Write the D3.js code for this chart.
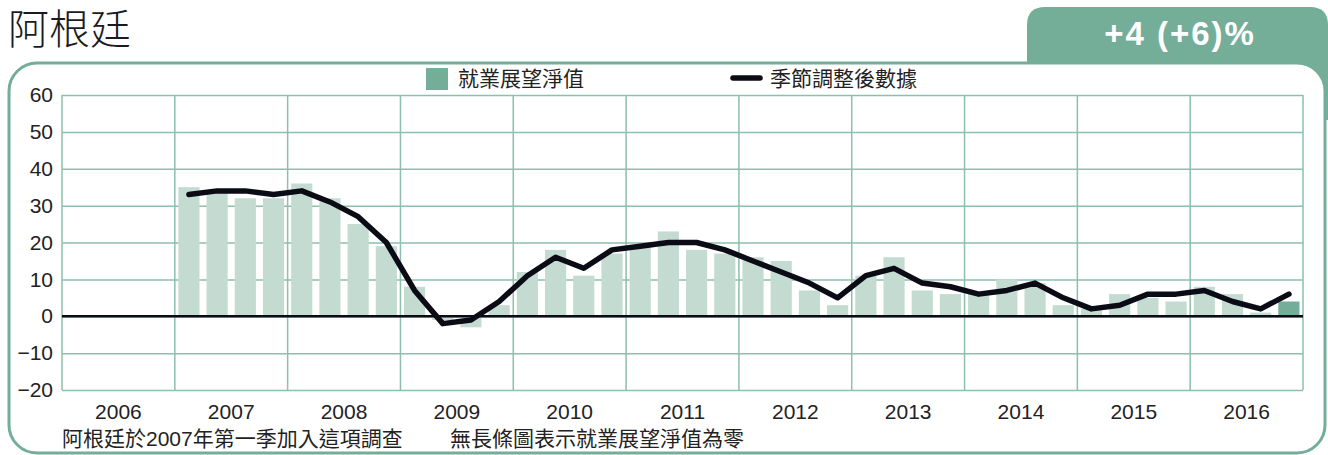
<!DOCTYPE html>
<html>
<head>
<meta charset="utf-8">
<script src="https://cdn.jsdelivr.net/npm/d3@7"></script>
<style>
  html, body { margin: 0; padding: 0; background: #fff; }
  svg { display: block; font-family: "Liberation Sans", "Noto Sans CJK TC", sans-serif; }
</style>
</head>
<body>
<svg id="chart"></svg>
<script>
// years on the axis, quarters within each year
const years = [2006, 2007, 2008, 2009, 2010, 2011, 2012, 2013, 2014, 2015, 2016];
const quarters = ["Q1", "Q2", "Q3", "Q4"];
const firstSurveyYear = 2007;

// net employment outlook, 2007Q1 .. 2016Q4
const netOutlook = [
  35, 34, 32, 32,
  36, 32, 25, 19,
  8, -1, -3, 3,
  12, 18, 11, 17,
  19, 23, 18, 17,
  16, 15, 7, 3,
  11, 16, 7, 6,
  6, 10, 9, 3,
  2, 6, 5, 4,
  8, 6, 1, 4
];
// seasonally adjusted, 2007Q1 .. 2016Q4
const seasonallyAdjusted = [
  33, 34, 34, 33,
  34, 31, 27, 20,
  7, -2, -1, 4,
  11, 16, 13, 18,
  19, 20, 20, 18,
  15, 12, 9, 5,
  11, 13, 9, 8,
  6, 7, 9, 5,
  2, 3, 6, 6,
  7, 4, 2, 6
];
const yTicks = [-20, -10, 0, 10, 20, 30, 40, 50, 60];

const countryTitle = "阿根廷";
const badgeText = "+4 (+6)%";
const legendBars = "就業展望淨值";
const legendLine = "季節調整後數據";
const footNotes = ["阿根廷於2007年第一季加入這項調查", "無長條圖表示就業展望淨值為零"];

const width = 1328, height = 455;
const green = "#74ae99", lightGreen = "#c4dbd2", gridGreen = "#8cbfac", ink = "#0b0b16";
const plot = { left: 62, right: 1303, top: 95, bottom: 390 };

const svg = d3.select("#chart").attr("width", width).attr("height", height);

// quarter keys for every axis year; data start at the first survey year
const allKeys = years.flatMap((yr) => quarters.map((q) => `${yr}${q}`));
const dataKeys = allKeys.filter((k) => +k.slice(0, 4) >= firstSurveyYear);
const rows = dataKeys.map((k, i) => ({ key: k, net: netOutlook[i], sa: seasonallyAdjusted[i] }));

const x = d3.scaleBand().domain(allKeys).range([plot.left, plot.right]).paddingInner(0.25).paddingOuter(0.125);
const xYear = d3.scaleBand().domain(years).range([plot.left, plot.right]);
const y = d3.scaleLinear().domain([-20, 60]).range([plot.bottom, plot.top]);

// badge behind the frame
svg.append("path")
  .attr("d", "M1027,80 V25 Q1027,7 1045,7 H1310 Q1328,7 1328,25 V120 H1027 Z")
  .attr("fill", green);
svg.append("text")
  .attr("x", 1180).attr("y", 45)
  .attr("text-anchor", "middle")
  .attr("fill", "#fff")
  .attr("font-size", 33).attr("font-weight", "bold")
  .attr("letter-spacing", 2)
  .text(badgeText);

// frame
svg.append("rect")
  .attr("x", 9).attr("y", 63).attr("width", 1316).attr("height", 390)
  .attr("rx", 28).attr("ry", 28)
  .attr("fill", "#fff").attr("stroke", green).attr("stroke-width", 3);

svg.append("text")
  .attr("x", 8).attr("y", 44)
  .attr("font-size", 41).attr("font-weight", 300)
  .attr("fill", "#1a1a22")
  .text(countryTitle);

// horizontal grid + y labels
const yAxis = svg.append("g")
  .attr("transform", `translate(${plot.left},0)`)
  .call(d3.axisLeft(y).tickValues(yTicks).tickSize(-(plot.right - plot.left)).tickPadding(9));
yAxis.select(".domain").remove();
yAxis.selectAll(".tick line").attr("stroke", gridGreen).attr("stroke-width", 1.5);
yAxis.selectAll(".tick text").attr("font-size", 21).attr("fill", "#222").attr("font-family", null);

// vertical year grid
svg.append("g")
  .selectAll("line")
  .data(years.map((yr) => xYear(yr)).concat(plot.right))
  .join("line")
  .attr("x1", (d) => d).attr("x2", (d) => d)
  .attr("y1", plot.top).attr("y2", plot.bottom)
  .attr("stroke", gridGreen).attr("stroke-width", 1.5);

// year labels
const xAxis = svg.append("g")
  .attr("transform", `translate(0,${plot.bottom})`)
  .call(d3.axisBottom(xYear).tickSize(0).tickPadding(14));
xAxis.select(".domain").remove();
xAxis.selectAll(".tick text").attr("font-size", 21).attr("fill", "#222").attr("font-family", null);

// bars
svg.append("g")
  .selectAll("rect")
  .data(rows)
  .join("rect")
  .attr("x", (d) => x(d.key))
  .attr("width", x.bandwidth())
  .attr("y", (d) => y(Math.max(0, d.net)))
  .attr("height", (d) => Math.abs(y(d.net) - y(0)))
  .attr("fill", (d, i) => (i === rows.length - 1 ? green : lightGreen));

// zero line
svg.append("line")
  .attr("x1", plot.left).attr("x2", plot.right)
  .attr("y1", y(0)).attr("y2", y(0))
  .attr("stroke", ink).attr("stroke-width", 2.5);

// seasonally adjusted line
const line = d3.line()
  .x((d) => x(d.key) + x.bandwidth() / 2)
  .y((d) => y(d.sa));
svg.append("path")
  .datum(rows)
  .attr("fill", "none")
  .attr("stroke", ink)
  .attr("stroke-width", 5.5)
  .attr("stroke-linejoin", "round")
  .attr("stroke-linecap", "round")
  .attr("d", line);

// legend
svg.append("rect").attr("x", 426).attr("y", 68).attr("width", 22).attr("height", 22).attr("fill", green);
svg.append("text").attr("x", 458).attr("y", 86).attr("font-size", 21).attr("fill", "#222").text(legendBars);
svg.append("line")
  .attr("x1", 733).attr("x2", 760).attr("y1", 78).attr("y2", 78)
  .attr("stroke", ink).attr("stroke-width", 5.5).attr("stroke-linecap", "round");
svg.append("text").attr("x", 770).attr("y", 86).attr("font-size", 21).attr("fill", "#222").text(legendLine);

// footnotes
svg.selectAll(".foot")
  .data(footNotes)
  .join("text")
  .attr("class", "foot")
  .attr("x", (d, i) => (i === 0 ? 62 : 450))
  .attr("y", 446)
  .attr("font-size", 21)
  .attr("fill", "#222")
  .text((d) => d);
</script>
</body>
</html>
